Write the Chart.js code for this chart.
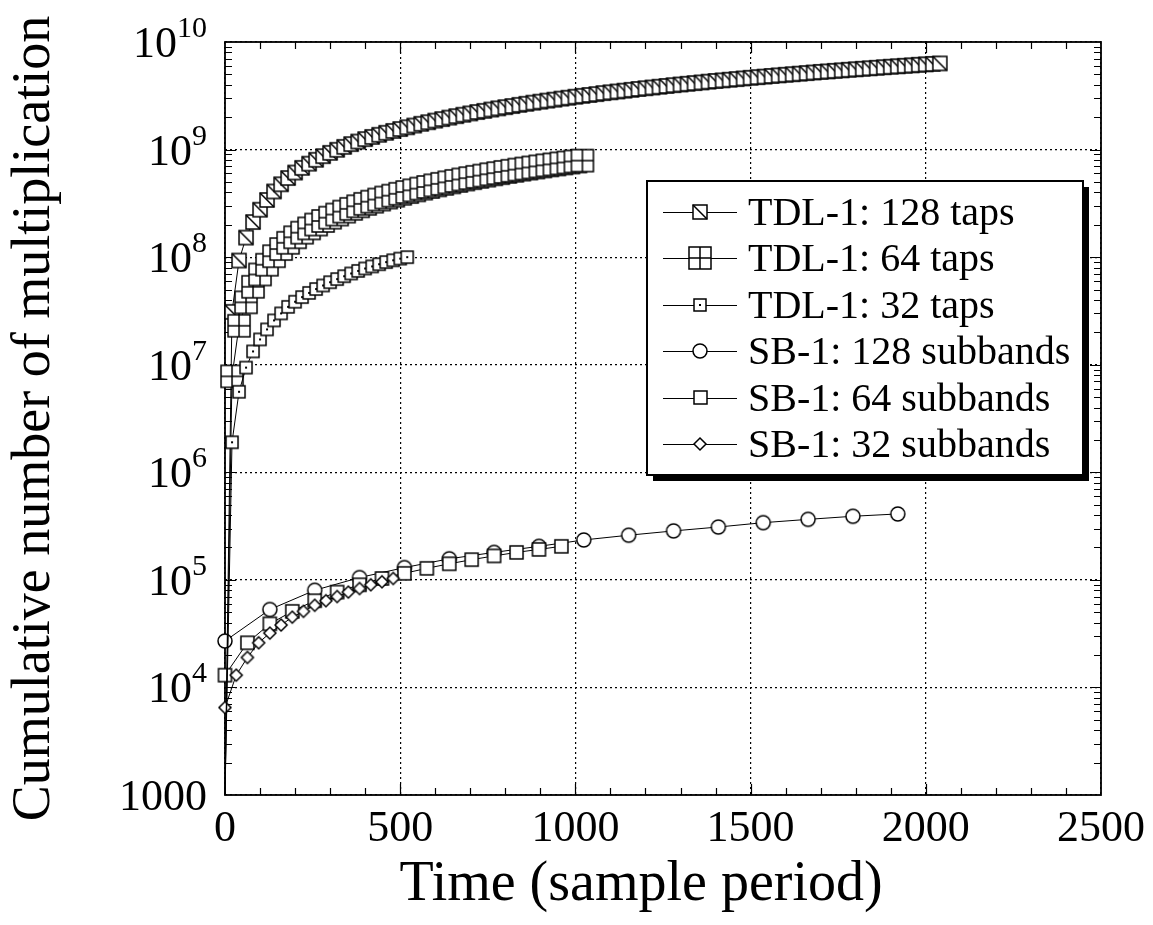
<!DOCTYPE html>
<html>
<head>
<meta charset="utf-8">
<title>Cumulative number of multiplication</title>
<script src="https://cdn.jsdelivr.net/npm/chart.js@4.4.0/dist/chart.umd.min.js"></script>
<style>
  html, body { margin: 0; padding: 0; background: #fff; }
  #wrap { width: 1153px; height: 925px; }
</style>
</head>
<body>
<div id="wrap"><canvas id="chart"></canvas></div>
<script>
// Sample times (sample period)
const tdlTime = [0, 20, 40, 60, 80, 100, 120, 140, 160, 180, 200, 220, 240, 260, 280, 300, 320, 340, 360, 380,
  400, 420, 440, 460, 480, 500, 520, 540, 560, 580, 600, 620, 640, 660, 680, 700, 720, 740, 760, 780,
  800, 820, 840, 860, 880, 900, 920, 940, 960, 980, 1000, 1020, 1040, 1060, 1080, 1100, 1120, 1140, 1160, 1180,
  1200, 1220, 1240, 1260, 1280, 1300, 1320, 1340, 1360, 1380, 1400, 1420, 1440, 1460, 1480, 1500, 1520, 1540, 1560, 1580,
  1600, 1620, 1640, 1660, 1680, 1700, 1720, 1740, 1760, 1780, 1800, 1820, 1840, 1860, 1880, 1900, 1920, 1940, 1960, 1980,
  2000, 2020, 2040];
const sb128Time = [0, 128, 256, 384, 512, 640, 768, 896, 1024, 1152, 1280, 1408, 1536, 1664, 1792, 1920];
const sb64Time = [0, 64, 128, 192, 256, 320, 384, 448, 512, 576, 640, 704, 768, 832, 896, 960];
const sb32Time = [0, 32, 64, 96, 128, 160, 192, 224, 256, 288, 320, 352, 384, 416, 448, 480];

// TDL-1 values in millions of multiplications (first point = start of run, at the axis floor)
const tdl128M = [0.001, 31, 93, 152, 212, 276, 340, 408, 476, 544, 612, 676, 740, 804, 868, 932, 996, 1060, 1124, 1188,
  1252, 1312, 1372, 1432, 1492, 1552, 1612, 1672, 1736, 1796, 1860, 1920, 1984, 2044, 2108, 2168, 2232, 2292, 2356, 2416,
  2480, 2540, 2604, 2664, 2728, 2788, 2852, 2912, 2976, 3036, 3100, 3160, 3220, 3280, 3350, 3410, 3470, 3530, 3590, 3660,
  3720, 3780, 3840, 3900, 3970, 4030, 4090, 4150, 4210, 4280, 4340, 4400, 4460, 4520, 4590, 4650, 4710, 4770, 4830, 4900,
  4960, 5020, 5080, 5140, 5210, 5270, 5330, 5390, 5450, 5520, 5580, 5640, 5700, 5760, 5830, 5890, 5950, 6010, 6070, 6140,
  6200, 6260, 6320];
const tdl64M = [0.001, 7.8, 23, 38, 53, 69, 85, 102, 119, 136, 153, 169, 185, 201, 217, 233, 249, 265, 281, 297,
  313, 328, 343, 358, 373, 388, 403, 418, 434, 449, 465, 480, 496, 511, 527, 542, 558, 573, 589, 604,
  620, 635, 651, 666, 682, 697, 713, 728, 744, 759, 775, 790];
const tdl32M = [0.001, 1.9, 5.6, 9.4, 13.3, 17.2, 21.3, 25.8, 30, 34.5, 38.5, 42.5, 46.5, 50.5, 54.5, 58.5, 62.5, 66.5, 70.5, 74.5,
  78.5, 82, 86, 90, 93.5, 97, 100];

// SB-1 values (multiplications)
const sb128 = [2.7e4, 5.3e4, 8.0e4, 1.05e5, 1.3e5, 1.57e5, 1.8e5, 2.05e5, 2.35e5, 2.6e5, 2.85e5, 3.1e5, 3.4e5, 3.65e5, 3.9e5, 4.1e5];
const sb64 = [1.3e4, 2.6e4, 3.9e4, 5.1e4, 6.4e4, 7.7e4, 9.0e4, 1.03e5, 1.15e5, 1.28e5, 1.41e5, 1.54e5, 1.67e5, 1.8e5, 1.92e5, 2.05e5];
const sb32 = [6.5e3, 1.3e4, 1.9e4, 2.6e4, 3.2e4, 3.8e4, 4.5e4, 5.1e4, 5.8e4, 6.4e4, 7.0e4, 7.7e4, 8.3e4, 9.0e4, 9.6e4, 1.03e5];

const seriesLabels = ['TDL-1: 128 taps', 'TDL-1: 64 taps', 'TDL-1: 32 taps',
  'SB-1: 128 subbands', 'SB-1: 64 subbands', 'SB-1: 32 subbands'];
const xTickValues = [0, 500, 1000, 1500, 2000, 2500];

const FONT = '"Liberation Serif", "Times New Roman", serif';

// Marker images (white filled, black outline)
function makeMarker(kind, size) {
  const pad = 2;
  const c = document.createElement('canvas');
  c.width = c.height = size + pad * 2;
  const g = c.getContext('2d');
  const m = c.width / 2, x0 = pad, y0 = pad, s = size;
  g.lineWidth = 1.5;
  g.strokeStyle = '#000';
  g.fillStyle = '#fff';
  g.beginPath();
  if (kind === 'circle') {
    g.arc(m, m, s / 2, 0, Math.PI * 2);
  } else if (kind === 'diamond') {
    g.moveTo(m, y0); g.lineTo(x0 + s, m); g.lineTo(m, y0 + s); g.lineTo(x0, m); g.closePath();
  } else {
    g.rect(x0, y0, s, s);
  }
  g.fill();
  g.stroke();
  if (kind === 'diag') {
    g.beginPath(); g.moveTo(x0, y0); g.lineTo(x0 + s, y0 + s); g.stroke();
  } else if (kind === 'cross') {
    g.beginPath(); g.moveTo(m, y0); g.lineTo(m, y0 + s); g.moveTo(x0, m); g.lineTo(x0 + s, m); g.stroke();
  } else if (kind === 'dot') {
    g.fillStyle = '#000'; g.fillRect(m - 1, m - 1, 2, 2);
  }
  return c;
}

const markers = [
  makeMarker('diag', 14),
  makeMarker('cross', 22),
  makeMarker('dot', 12),
  makeMarker('circle', 14),
  makeMarker('square', 13),
  makeMarker('diamond', 12)
];

function toPoints(times, values, scale) {
  return values.map((v, i) => ({ x: times[i], y: v * scale }));
}

const seriesData = [
  toPoints(tdlTime, tdl128M, 1e6),
  toPoints(tdlTime, tdl64M, 1e6),
  toPoints(tdlTime, tdl32M, 1e6),
  toPoints(sb128Time, sb128, 1),
  toPoints(sb64Time, sb64, 1),
  toPoints(sb32Time, sb32, 1)
];
// draw order: smaller "order" ends up on top
const drawOrder = [3, 2, 1, 6, 5, 4];

const datasets = seriesData.map((pts, i) => ({
  label: seriesLabels[i],
  data: pts,
  borderColor: '#000',
  borderWidth: 1,
  backgroundColor: '#fff',
  pointStyle: markers[i],
  // TDL runs start from zero: no marker at the floor point
  pointRadius: c => (i < 3 && c.dataIndex === 0 ? 0 : 6),
  tension: 0,
  clip: 14,
  order: drawOrder[i]
}));

// Frame, inward ticks, y labels with exponents, x title, boxed legend
const decor = {
  id: 'decor',
  beforeDatasetsDraw(chart) {
    const { ctx, chartArea: a, scales: { x, y } } = chart;
    ctx.save();
    ctx.strokeStyle = '#000';
    ctx.lineWidth = 1.2;
    ctx.beginPath();
    for (let v = 100; v < 2500; v += 100) {
      const px = Math.round(x.getPixelForValue(v)) + 0.5;
      const len = v % 500 === 0 ? 11 : 7;
      ctx.moveTo(px, a.bottom); ctx.lineTo(px, a.bottom - len);
      ctx.moveTo(px, a.top); ctx.lineTo(px, a.top + len);
    }
    for (let d = 3; d < 10; d++) {
      for (let k = 1; k <= 9; k++) {
        if (d === 3 && k === 1) continue;
        const py = Math.round(y.getPixelForValue(k * Math.pow(10, d))) + 0.5;
        const len = k === 1 ? 11 : 7;
        ctx.moveTo(a.left, py); ctx.lineTo(a.left + len, py);
        ctx.moveTo(a.right, py); ctx.lineTo(a.right - len, py);
      }
    }
    ctx.stroke();
    ctx.lineWidth = 1.8;
    ctx.strokeRect(a.left, a.top, a.right - a.left, a.bottom - a.top);
    ctx.restore();
  },
  afterDraw(chart) {
    const { ctx, scales: { y } } = chart;
    ctx.save();
    ctx.fillStyle = '#000';

    // y tick labels
    y.ticks.forEach(t => {
      const e = Math.round(Math.log10(t.value));
      const py = y.getPixelForValue(t.value);
      const right = 207;
      ctx.textBaseline = 'alphabetic';
      if (e === 3) {
        ctx.font = '44px ' + FONT;
        ctx.textAlign = 'right';
        ctx.fillText('1000', right, py + 15);
        return;
      }
      ctx.font = '30px ' + FONT;
      const ew = ctx.measureText(String(e)).width;
      ctx.textAlign = 'left';
      ctx.fillText(String(e), right - ew, py - 5);
      ctx.font = '44px ' + FONT;
      ctx.textAlign = 'right';
      ctx.fillText('10', right - ew, py + 15);
    });

    // x axis title
    ctx.font = '56px ' + FONT;
    ctx.textAlign = 'center';
    ctx.fillText('Time (sample period)', 641, 900);

    // legend box with shadow
    const L = 647, T = 181, R = 1083, B = 475;
    ctx.fillStyle = '#000';
    ctx.fillRect(L + 6, T + 6, R - L, B - T);
    ctx.fillStyle = '#fff';
    ctx.fillRect(L, T, R - L, B - T);
    ctx.strokeStyle = '#000';
    ctx.lineWidth = 2;
    ctx.strokeRect(L, T, R - L, B - T);

    ctx.font = '40px ' + FONT;
    ctx.textAlign = 'left';
    ctx.fillStyle = '#000';
    chart.data.datasets.forEach((ds, i) => {
      const ry = T + 31 + i * 46.4;
      ctx.lineWidth = 1;
      ctx.beginPath();
      ctx.moveTo(663, Math.round(ry) + 0.5);
      ctx.lineTo(737, Math.round(ry) + 0.5);
      ctx.stroke();
      const img = markers[i];
      ctx.drawImage(img, Math.round(700 - img.width / 2), Math.round(ry - img.height / 2));
      ctx.fillText(ds.label, 748, ry + 13);
    });
    ctx.restore();
  }
};

Chart.defaults.font.family = FONT;
Chart.defaults.color = '#000';

new Chart(document.getElementById('chart'), {
  type: 'line',
  data: { datasets },
  options: {
    responsive: true,
    maintainAspectRatio: false,
    animation: false,
    devicePixelRatio: 1,
    layout: { padding: { top: 42, right: 45, left: 0, bottom: 0 } },
    plugins: { legend: { display: false }, tooltip: { enabled: false } },
    scales: {
      x: {
        type: 'linear',
        min: 0,
        max: 2500,
        afterBuildTicks: s => { s.ticks = xTickValues.map(v => ({ value: v })); },
        afterFit: s => { s.height = 130; },
        ticks: {
          font: { size: 44 },
          padding: 8,
          maxRotation: 0,
          autoSkip: false,
          callback: v => String(v)
        },
        grid: { drawTicks: false, color: '#000', lineWidth: 1.2 },
        border: { display: false, dash: [2, 3] }
      },
      y: {
        type: 'logarithmic',
        min: 1e3,
        max: 1e10,
        afterBuildTicks: s => {
          s.ticks = s.ticks.filter(t => {
            const l = Math.log10(t.value);
            return Math.abs(l - Math.round(l)) < 1e-6;
          });
        },
        afterFit: s => { s.width = 225; },
        ticks: { display: false },
        grid: { drawTicks: false, color: '#000', lineWidth: 1.2 },
        border: { display: false, dash: [2, 3] },
        title: {
          display: true,
          text: 'Cumulative number of multiplication',
          font: { size: 54 },
          padding: { top: 2, bottom: 0 }
        }
      }
    }
  },
  plugins: [decor]
});
</script>
</body>
</html>
